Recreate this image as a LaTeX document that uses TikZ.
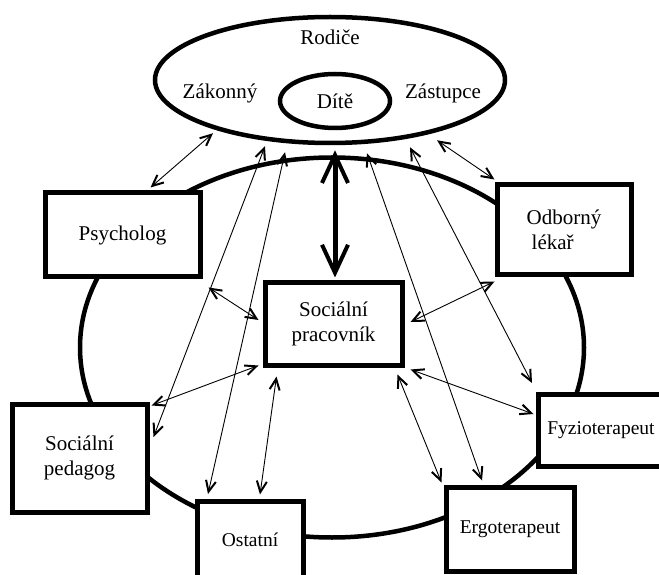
\documentclass[tikz,border=0pt]{standalone}
\usepackage{fontspec}
\setmainfont{Liberation Serif}
\usetikzlibrary{shapes.geometric, arrows.meta, positioning}

\begin{document}
\begin{tikzpicture}[
    x=1pt, y=1pt,
    font=\fontsize{21}{25}\selectfont,
    box/.style={
        rectangle,
        draw,
        fill=white,
        align=center,
        line width=5pt,
        inner sep=0pt
    },
    small/.style={font=\fontsize{19.5}{24}\selectfont},
    oval/.style={
        ellipse,
        draw,
        fill=white,
        line width=4.5pt,
        inner sep=0pt
    },
    arrow/.style={<->, >={Straight Barb[length=11pt,width=10pt,line width=2pt]}, line width=0.9pt},
    bigarrow/.style={<->, >={Straight Barb[length=28pt,width=26pt,line width=4pt]}, line width=5pt}
]
\useasboundingbox (0,0) rectangle (659,574);

% Circle of helpers
\draw[line width=4.5pt] (332,226.5) ellipse [x radius=252, y radius=190];

% Parents and child
\node[oval, minimum width=350pt, minimum height=126pt] (rodice) at (330,494) {};
\node (rodicetxt) at (330,537) {Rodiče};
\node (zakonny) at (220,481) {Zákonný};
\node (zastupce) at (443,481) {Zástupce};
\node[oval, minimum width=110pt, minimum height=54pt] (dite) at (335,473) {Dítě};

% Boxes
\node[box, minimum width=155pt, minimum height=84pt] (psycholog) at (122.5,339) {Psycholog};
\node[box, minimum width=134pt, minimum height=90pt, align=left] (lekar) at (564,344) {Odborný\\\hspace{5pt}lékař};
\node[box, minimum width=137pt, minimum height=82pt] (pracovnik) at (333.5,250) {Sociální\\pracovník};
\node[box, minimum width=135pt, minimum height=108pt] (pedagog) at (79.5,116) {Sociální\\pedagog};
\node[box, small, minimum width=106pt, minimum height=77pt] (ostatni) at (250,34.5) {Ostatní};
\node[box, small, minimum width=128pt, minimum height=84pt] (ergo) at (510,45) {Ergoterapeut};
\node[box, small, minimum width=126pt, minimum height=72pt] (fyzio) at (601,144) {Fyzioterapeut};

% Arrows from parents
\draw[bigarrow] ([xshift=5pt,yshift=-5pt]rodice.south) -- ([xshift=1.5pt,yshift=3pt]pracovnik.north);
\draw[arrow] ([xshift=-117pt,yshift=12pt]rodice.south) -- ([xshift=28pt,yshift=3pt]psycholog.north);
\draw[arrow] ([xshift=107pt,yshift=5pt]rodice.south) -- ([yshift=3pt]lekar.north west);
\draw[arrow] ([xshift=-65pt,yshift=-1pt]rodice.south) -- ([xshift=4pt,yshift=21pt]pedagog.east);
\draw[arrow] ([xshift=-45pt,yshift=-7pt]rodice.south) -- ([xshift=13.5pt,yshift=4.5pt]ostatni.north west);
\draw[arrow] ([xshift=37pt,yshift=-8pt]rodice.south) -- ([xshift=-28pt,yshift=4pt]ergo.north);
\draw[arrow] ([xshift=80pt,yshift=-2pt]rodice.south) -- ([xshift=-3.5pt,yshift=8.5pt]fyzio.north west);

% Arrows from social worker
\draw[arrow] ([xshift=6pt,yshift=-8pt]psycholog.south east) -- ([xshift=-4pt,yshift=4pt]pracovnik.west);
\draw[arrow] ([xshift=6pt,yshift=2pt]pracovnik.east) -- ([yshift=-4pt]lekar.south west);
\draw[arrow] ([xshift=-4pt,yshift=2pt]pracovnik.south west) -- ([xshift=2pt,yshift=-4pt]pedagog.north east);
\draw[arrow] ([xshift=14pt,yshift=-9pt]pracovnik.south west) -- ([xshift=10pt,yshift=4pt]ostatni.north);
\draw[arrow] ([xshift=6pt,yshift=-2pt]pracovnik.south east) -- ([xshift=-2pt,yshift=16pt]fyzio.west);
\draw[arrow] ([xshift=-7pt,yshift=-7pt]pracovnik.south east) -- ([xshift=-2pt,yshift=2pt]ergo.north west);

\end{tikzpicture}
\end{document}
